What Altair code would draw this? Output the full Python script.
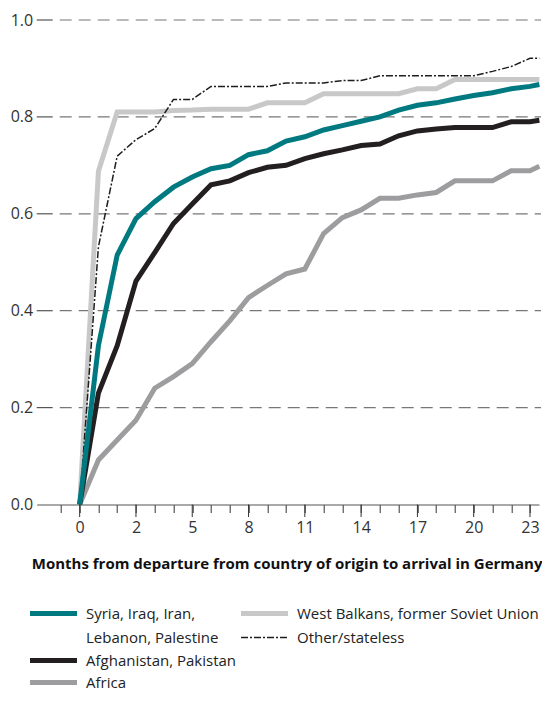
import altair as alt
import pandas as pd

# ---- data ----
x_pos = list(range(0, 25)) + [24.5]
syria = [0, 0.328, 0.515, 0.59, 0.625, 0.655, 0.676, 0.693, 0.70, 0.722, 0.73, 0.75, 0.759,
         0.773, 0.782, 0.791, 0.80, 0.814, 0.824, 0.829, 0.837, 0.844, 0.85, 0.858, 0.863, 0.867]
afghan = [0, 0.23, 0.328, 0.461, 0.52, 0.58, 0.62, 0.66, 0.668, 0.685, 0.696, 0.70, 0.714,
          0.724, 0.732, 0.741, 0.744, 0.761, 0.771, 0.775, 0.778, 0.778, 0.778, 0.79, 0.79, 0.793]
africa = [0, 0.092, 0.133, 0.174, 0.24, 0.264, 0.291, 0.336, 0.379, 0.427, 0.452, 0.476, 0.486,
          0.559, 0.592, 0.608, 0.632, 0.632, 0.639, 0.644, 0.668, 0.668, 0.668, 0.689, 0.689, 0.698]
balkans = [0, 0.688, 0.81, 0.81, 0.81, 0.813, 0.814, 0.816, 0.816, 0.816, 0.829, 0.829, 0.829,
           0.848, 0.848, 0.848, 0.848, 0.848, 0.858, 0.858, 0.877, 0.877, 0.877, 0.877, 0.877, 0.877]
other = [0, 0.532, 0.719, 0.753, 0.776, 0.836, 0.836, 0.863, 0.863, 0.863, 0.863, 0.87, 0.87,
         0.87, 0.875, 0.875, 0.885, 0.885, 0.885, 0.885, 0.885, 0.885, 0.894, 0.904, 0.921, 0.921]

series_names = ["Syria, Iraq, Iran, Lebanon, Palestine", "Afghanistan, Pakistan", "Africa",
                "West Balkans, former Soviet Union", "Other/stateless"]
tick_positions = list(range(-1, 25))
major_positions = [0, 3, 6, 9, 12, 15, 18, 21, 24]
major_labels = ["0", "2", "5", "8", "11", "14", "17", "20", "23"]
y_values = [0.0, 0.2, 0.4, 0.6, 0.8, 1.0]
x_title = "Months from departure from country of origin to arrival in Germany"

# ---- tables ----
rows = []
for name, vals in zip(series_names, [syria, afghan, africa, balkans, other]):
    for x, v in zip(x_pos, vals):
        rows.append({"series": name, "x": x, "y": v})
df = pd.DataFrame(rows)
grid_df = pd.DataFrame({"y": [v for v in y_values if v > 0]})
major_df = pd.DataFrame({"x": major_positions})
ylab_df = pd.DataFrame({"y": y_values})

W = 502.3
H = 484.5
FONT = "Open Sans"

label_expr = "''"
for p, l in reversed(list(zip(major_positions, major_labels))):
    label_expr = f"datum.value == {p} ? '{l}' : ({label_expr})"

xscale = alt.Scale(domain=[-2.29, 24.48], nice=False, zero=False)
yscale = alt.Scale(domain=[0, 1], nice=False)

X = alt.X("x:Q", scale=xscale, axis=alt.Axis(
    values=tick_positions, tickSize=8, tickColor="#333333", tickWidth=1,
    domainColor="#555555", domainWidth=1.2, grid=False,
    labelExpr=label_expr, labelFont=FONT, labelFontSize=16, labelColor="#333333",
    labelPadding=7, labelFlush=False, labelOverlap=False,
    title=x_title, titleFont=FONT, titleFontSize=15, titleFontWeight="bold",
    titleColor="#111111", titleAlign="right", titleAnchor="end",
    titleX=W + 3, titleY=64, titleBaseline="alphabetic"))
Y = alt.Y("y:Q", scale=yscale, axis=alt.Axis(
    values=y_values, format=".1f", ticks=False, domain=False, grid=False,
    labelFont=FONT, labelFontSize=16, labelColor="#333333", labelPadding=4,
    title=None))

# dashed grid and solid stubs
grid = alt.Chart(grid_df).mark_rule(color="#777777", strokeWidth=1.2, strokeDash=[12, 7]).encode(
    y=Y, x=alt.value(23), x2=alt.value(W + 2))
stubs = alt.Chart(grid_df).mark_rule(color="#555555", strokeWidth=1.2).encode(
    y=Y, x=alt.value(0), x2=alt.value(16))
ylabels = alt.Chart(ylab_df).mark_point(opacity=0).encode(y=Y, x=alt.value(0))
major_ticks = alt.Chart(major_df).mark_rule(color="#333333", strokeWidth=1).encode(
    x=X, y=alt.value(H), y2=alt.value(H + 12.5))

styles = {
    "West Balkans, former Soviet Union": dict(color="#c8c8c8", strokeWidth=5),
    "Africa": dict(color="#9d9d9f", strokeWidth=5),
    "Other/stateless": dict(color="#1d1d1b", strokeWidth=1.5, strokeDash=[7, 2, 2, 2]),
    "Afghanistan, Pakistan": dict(color="#231f20", strokeWidth=5),
    "Syria, Iraq, Iran, Lebanon, Palestine": dict(color="#007a80", strokeWidth=5),
}
lines = []
for name in ["West Balkans, former Soviet Union", "Africa", "Other/stateless",
             "Afghanistan, Pakistan", "Syria, Iraq, Iran, Lebanon, Palestine"]:
    st = styles[name]
    lines.append(alt.Chart(df).transform_filter(alt.datum.series == name).mark_line(
        strokeJoin="miter", strokeCap="butt", **st).encode(x=X, y=Y))

# ---- manual legend (positions relative to plot origin) ----
leg_items = [
    ("Syria, Iraq, Iran, Lebanon, Palestine", ["Syria, Iraq, Iran,", "Lebanon, Palestine"], -6.7, 593.5),
    ("Afghanistan, Pakistan", ["Afghanistan, Pakistan"], -6.7, 640.5),
    ("Africa", ["Africa"], -6.7, 662.5),
    ("West Balkans, former Soviet Union", ["West Balkans, former Soviet Union"], 204.3, 593.5),
    ("Other/stateless", ["Other/stateless"], 204.3, 617.5),
]
legend_layers = []
for name, text_lines, lx, ly in leg_items:
    st = styles[name]
    legend_layers.append(alt.Chart(ylab_df.head(1)).mark_rule(**st).encode(
        x=alt.value(lx), x2=alt.value(lx + 47), y=alt.value(ly)))
    legend_layers.append(alt.Chart(ylab_df.head(1)).mark_text(
        align="left", baseline="middle", font=FONT, fontSize=15, color="#222222",
        lineHeight=24).encode(
        x=alt.value(lx + 56), y=alt.value(ly),
        text=alt.value(text_lines if len(text_lines) > 1 else text_lines[0])))

chart = alt.layer(grid, stubs, ylabels, major_ticks, *lines, *legend_layers).properties(
    width=W, height=H,
    padding={"left": 28.7, "top": 12, "right": 3, "bottom": 187.5},
    autosize=alt.AutoSizeParams(type="none"),
).configure(font=FONT).configure_view(strokeOpacity=0, strokeWidth=0)

chart.save("out.html", embed_options={"renderer": "svg", "actions": False})
